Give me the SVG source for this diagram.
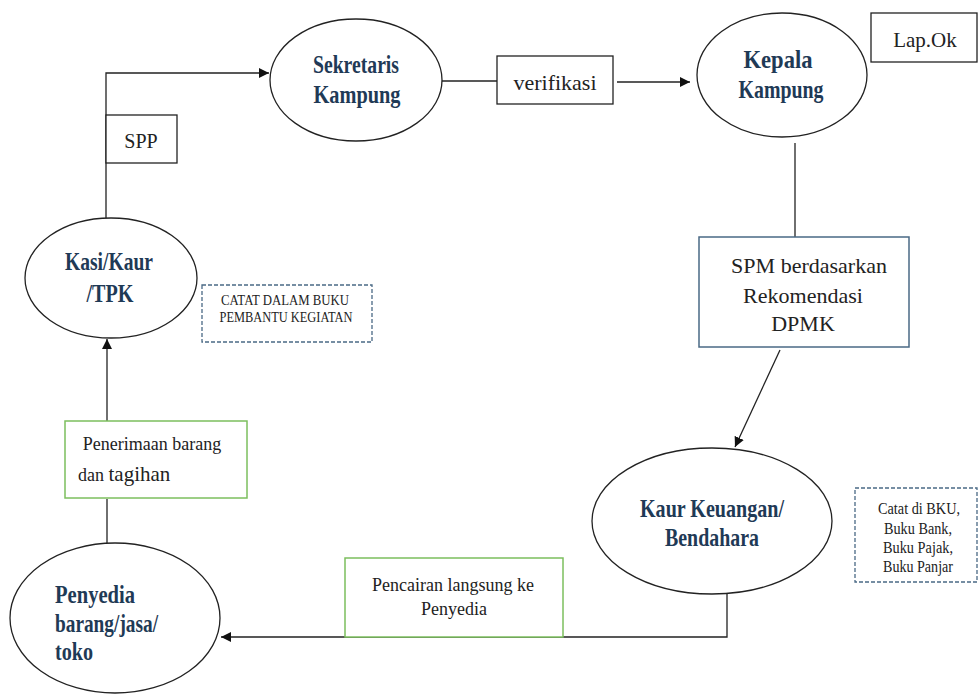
<svg xmlns="http://www.w3.org/2000/svg" width="978" height="695" viewBox="0 0 978 695">
<defs>
<style>
.node{fill:#fff;stroke:#222;stroke-width:1.3}
text{font-family:'Liberation Serif','DejaVu Serif',serif}
.nt{font-weight:bold;font-size:25px;fill:#1f3a56;text-anchor:middle}
.ns{font-weight:bold;font-size:25px;fill:#1f3a56;text-anchor:start}
.lt{fill:#222;text-anchor:middle}
.ls{fill:#222;text-anchor:start}
.box{fill:#fff;stroke:#222;stroke-width:1.3}
.gbox{fill:#fff;stroke:#7cbf5e;stroke-width:1.5}
.bbox{fill:#fff;stroke:#4a6985;stroke-width:1.5}
.dbox{fill:#fff;stroke:#4a6985;stroke-width:1.3;stroke-dasharray:4 2}
.con{fill:none;stroke:#222;stroke-width:1.3}
</style>
<marker id="arr" viewBox="0 0 10 10" refX="10" refY="5" markerWidth="10" markerHeight="10" markerUnits="userSpaceOnUse" orient="auto">
<path d="M0,0 L10,5 L0,10 z" fill="#111"/>
</marker>
</defs>
<rect width="978" height="695" fill="#fff"/>
<g id="connectors">
<path class="con" d="M106,218 V73 H269" marker-end="url(#arr)"/>
<path class="con" d="M442,81 H497"/>
<path class="con" d="M617,82 H690" marker-end="url(#arr)"/>
<path class="con" d="M795,143 V237"/>
<path class="con" d="M780,350 L735,447" marker-end="url(#arr)"/>
<path class="con" d="M727,594 V637 H221" marker-end="url(#arr)"/>
<path class="con" d="M107,499 V543"/>
<path class="con" d="M107,421 V339" marker-end="url(#arr)"/>
</g>
<g id="spp">
<rect class="box" x="106" y="115" width="71" height="48"/>
<text class="lt" x="141" y="148" font-size="20">SPP</text>
</g>
<g id="verifikasi">
<rect class="box" x="497" y="56" width="116" height="48"/>
<text class="lt" x="555" y="90" font-size="22">verifikasi</text>
</g>
<g id="lapok">
<rect class="box" x="871" y="13" width="106" height="49"/>
<text class="lt" x="925" y="47" font-size="21">Lap.Ok</text>
</g>
<g id="sekretaris">
<ellipse class="node" cx="356" cy="80" rx="86" ry="61"/>
<text class="nt" x="356" y="73" textLength="86" lengthAdjust="spacingAndGlyphs">Sekretaris</text>
<text class="nt" x="357" y="103" textLength="87" lengthAdjust="spacingAndGlyphs">Kampung</text>
</g>
<g id="kepala">
<ellipse class="node" cx="782" cy="75" rx="85" ry="62"/>
<text class="nt" x="778" y="68" textLength="69" lengthAdjust="spacingAndGlyphs">Kepala</text>
<text class="nt" x="781" y="98" textLength="85" lengthAdjust="spacingAndGlyphs">Kampung</text>
</g>
<g id="spm">
<rect class="bbox" x="699" y="237" width="210" height="110"/>
<text class="lt" x="809" y="273" font-size="22">SPM berdasarkan</text>
<text class="lt" x="803" y="303" font-size="22">Rekomendasi</text>
<text class="lt" x="803" y="331" font-size="22">DPMK</text>
</g>
<g id="kasi">
<ellipse class="node" cx="111" cy="278" rx="86" ry="60"/>
<text class="nt" x="109" y="270" textLength="88" lengthAdjust="spacingAndGlyphs">Kasi/Kaur</text>
<text class="nt" x="110" y="302" textLength="47" lengthAdjust="spacingAndGlyphs">/TPK</text>
</g>
<g id="catat-buku">
<rect class="dbox" x="202" y="285" width="170" height="57"/>
<text class="lt" x="285" y="305" font-size="14" textLength="128" lengthAdjust="spacingAndGlyphs">CATAT DALAM BUKU</text>
<text class="lt" x="286" y="322" font-size="14" textLength="133" lengthAdjust="spacingAndGlyphs">PEMBANTU KEGIATAN</text>
</g>
<g id="penerimaan">
<rect class="gbox" x="65" y="421" width="182" height="77"/>
<text class="lt" x="152" y="450" font-size="18">Penerimaan barang</text>
<text class="ls" x="78" y="481"><tspan font-size="18">dan </tspan><tspan font-size="21">tagihan</tspan></text>
</g>
<g id="kaur">
<ellipse class="node" cx="712" cy="521" rx="120" ry="73"/>
<text class="nt" x="712" y="517" textLength="144" lengthAdjust="spacingAndGlyphs">Kaur Keuangan/</text>
<text class="nt" x="712" y="546" textLength="94" lengthAdjust="spacingAndGlyphs">Bendahara</text>
</g>
<g id="catat-bku">
<rect class="dbox" x="855" y="488" width="122" height="94"/>
<text class="lt" x="919" y="514" font-size="17" textLength="82" lengthAdjust="spacingAndGlyphs">Catat di BKU,</text>
<text class="lt" x="918" y="534" font-size="17" textLength="68" lengthAdjust="spacingAndGlyphs">Buku Bank,</text>
<text class="lt" x="918" y="553" font-size="17" textLength="70" lengthAdjust="spacingAndGlyphs">Buku Pajak,</text>
<text class="lt" x="918" y="572" font-size="17" textLength="70" lengthAdjust="spacingAndGlyphs">Buku Panjar</text>
</g>
<g id="pencairan">
<rect class="gbox" x="345" y="558" width="218" height="79"/>
<text class="lt" x="453" y="591" font-size="18">Pencairan langsung ke</text>
<text class="lt" x="454" y="615" font-size="18">Penyedia</text>
</g>
<g id="penyedia">
<ellipse class="node" cx="115" cy="618" rx="105" ry="75"/>
<text class="ns" x="55" y="603" textLength="80" lengthAdjust="spacingAndGlyphs">Penyedia</text>
<text class="ns" x="55" y="632" textLength="103" lengthAdjust="spacingAndGlyphs">barang/jasa/</text>
<text class="ns" x="55" y="660" textLength="38" lengthAdjust="spacingAndGlyphs">toko</text>
</g>
</svg>
